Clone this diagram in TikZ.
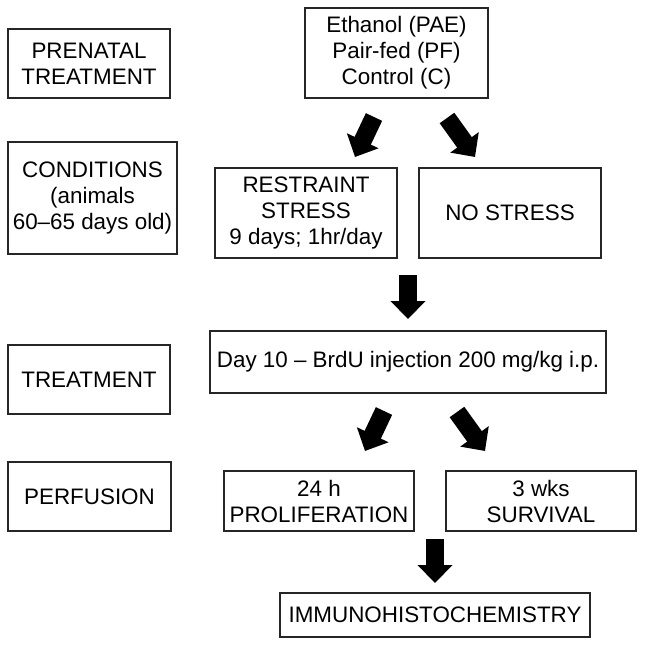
\documentclass[tikz,border=0pt]{standalone}
\usepackage{fontspec}
\setmainfont{Liberation Sans}
\usetikzlibrary{arrows.meta}
\tikzset{
  box/.style={draw=black!85, line width=1.1pt, rectangle, inner sep=0pt, align=center,
    font=\fontsize{22.4}{26}\selectfont},
  blockarrow/.style={line width=18pt, -{Triangle[width=34pt,length=18pt]}, black}
}
\begin{document}
\begin{tikzpicture}[x=1pt,y=-1pt]
\useasboundingbox (0,0) rectangle (645,646);
% left column
\node[box, minimum width=162pt, minimum height=69pt] (pre) at (89,63.5) {PRENATAL\\TREATMENT};
\node[box, minimum width=169pt, minimum height=112pt] (cond) at (92.5,198) {CONDITIONS\\(animals\\60--65 days old)};
\node[box, minimum width=162pt, minimum height=69pt] (treat) at (89,379.5) {TREATMENT};
\node[box, minimum width=163pt, minimum height=69pt] (perf) at (89.5,496.5) {PERFUSION};
% flow
\node[box, minimum width=183pt, minimum height=90pt] (eth) at (396.5,53) {Ethanol (PAE)\\Pair-fed (PF)\\Control (C)};
\node[box, minimum width=182pt, minimum height=90pt] (rest) at (306,213) {RESTRAINT\\STRESS\\9 days; 1hr/day};
\node[box, minimum width=182pt, minimum height=90pt] (nost) at (510,213) {NO STRESS};
\node[box, minimum width=396pt, minimum height=62pt] (brdu) at (408,362) {Day 10 -- BrdU injection 200 mg/kg i.p.};
\node[box, minimum width=190pt, minimum height=60pt] (prol) at (319,501) {24 h\\PROLIFERATION};
\node[box, minimum width=190pt, minimum height=60pt] (surv) at (541,501) {3 wks\\SURVIVAL};
\node[box, minimum width=310pt, minimum height=44pt] (imm) at (435,615) {IMMUNOHISTOCHEMISTRY};
% arrow end points
\coordinate (a1s) at (374,117); \coordinate (a1e) at (355,157);
\coordinate (a2s) at (447,118); \coordinate (a2e) at (475,157);
\coordinate (a3s) at (408,275); \coordinate (a3e) at (408,319);
\coordinate (a4s) at (384,411); \coordinate (a4e) at (365,451);
\coordinate (a5s) at (457,412); \coordinate (a5e) at (485,451);
\coordinate (a6s) at (435,539); \coordinate (a6e) at (435,583);
\draw[blockarrow] (a1s) -- (a1e);
\draw[blockarrow] (a2s) -- (a2e);
\draw[blockarrow] (a3s) -- (a3e);
\draw[blockarrow] (a4s) -- (a4e);
\draw[blockarrow] (a5s) -- (a5e);
\draw[blockarrow] (a6s) -- (a6e);
\end{tikzpicture}
\end{document}
